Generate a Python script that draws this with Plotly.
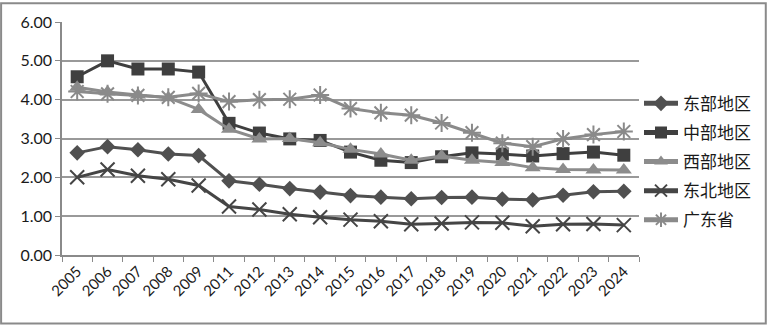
import plotly.graph_objects as go

years = ["2005", "2006", "2007", "2008", "2009", "2011", "2012", "2013", "2014", "2015",
         "2016", "2017", "2018", "2019", "2020", "2021", "2022", "2023", "2024"]

east = [2.63, 2.79, 2.71, 2.60, 2.56, 1.91, 1.82, 1.71, 1.62, 1.53,
        1.49, 1.45, 1.48, 1.49, 1.44, 1.42, 1.54, 1.63, 1.64]
central = [4.59, 5.00, 4.79, 4.79, 4.71, 3.39, 3.14, 2.99, 2.95, 2.65,
           2.44, 2.38, 2.53, 2.63, 2.60, 2.55, 2.61, 2.65, 2.57]
west = [4.32, 4.20, 4.12, 4.05, 3.75, 3.24, 2.99, 3.00, 2.89, 2.72,
        2.60, 2.44, 2.55, 2.44, 2.38, 2.25, 2.20, 2.19, 2.19]
northeast = [2.00, 2.20, 2.04, 1.95, 1.79, 1.25, 1.17, 1.05, 0.97, 0.91,
             0.87, 0.79, 0.81, 0.84, 0.83, 0.74, 0.79, 0.80, 0.77]
guangdong = [4.21, 4.15, 4.11, 4.06, 4.16, 3.95, 4.00, 4.01, 4.12, 3.77,
             3.66, 3.60, 3.40, 3.15, 2.88, 2.79, 2.99, 3.10, 3.18]

y_ticks = [0, 1, 2, 3, 4, 5, 6]
y_tick_labels = ["0.00", "1.00", "2.00", "3.00", "4.00", "5.00", "6.00"]

names = ["东部地区", "中部地区", "西部地区", "东北地区", "广东省"]
series = [east, central, west, northeast, guangdong]
colors = ["#505050", "#3f3f3f", "#8c8c8c", "#454545", "#8a8a8a"]
symbols = ["diamond", "square", "triangle-up", "x-thin-open", "asterisk-open"]
sizes = [12, 13, 14, 14, 15]

fig = go.Figure()
for i, (n, s) in enumerate(zip(names, series)):
    open_sym = symbols[i].endswith("open")
    fig.add_trace(go.Scatter(
        x=years, y=s, name=n, mode="lines+markers",
        legendgroup=f"g{i}",
        line=dict(color=colors[i], width=3),
        marker=dict(symbol=symbols[i], size=sizes[i], color=colors[i],
                    line=dict(color=colors[i], width=2 if open_sym else 0)),
    ))

font_fam = "Lato, 'Noto Sans CJK SC', sans-serif"
fig.update_layout(
    width=768, height=325,
    margin=dict(l=62, r=128, t=20, b=70),
    paper_bgcolor="white", plot_bgcolor="white",
    font=dict(family=font_fam, size=16, color="#1a1a1a"),
    showlegend=True,
    legend=dict(x=1.0, xanchor="left", y=0.40, yanchor="middle",
                font=dict(size=17, family="'Noto Sans CJK SC', sans-serif", color="#1a1a1a"),
                tracegroupgap=4, itemwidth=34, itemsizing="constant",
                bgcolor="rgba(0,0,0,0)"),
    xaxis=dict(type="category", tickson="boundaries", ticks="outside", ticklen=5,
               tickcolor="#8a8a8a", showline=True, linecolor="#8a8a8a", linewidth=1.5,
               showgrid=False, tickangle=-45, tickfont=dict(size=15),
               range=[-0.5, len(years) - 0.5]),
    yaxis=dict(range=[0, 6], tickvals=y_ticks, ticktext=y_tick_labels,
               ticks="outside", ticklen=5, tickcolor="#8a8a8a",
               showline=True, linecolor="#8a8a8a", linewidth=1.5,
               showgrid=True, gridcolor="#999999", gridwidth=1.5,
               zeroline=False, tickfont=dict(size=16)),
    shapes=[dict(type="rect", xref="paper", yref="paper",
                 x0=-61 / 578, x1=(768 - 62 - 1) / 578,
                 y0=-69 / 235, y1=(235 + 19) / 235,
                 line=dict(color="#8a8a8a", width=2))],
)

fig.write_html("out.html")
